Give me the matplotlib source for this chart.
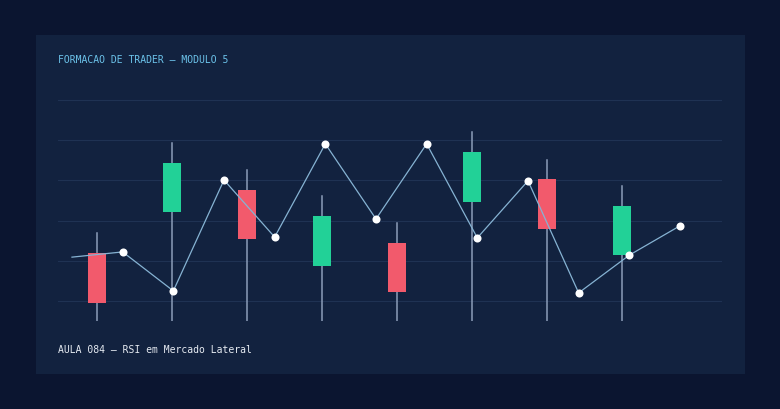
import matplotlib.pyplot as plt
from matplotlib.patches import Rectangle

# candles (price scale)
opens = [111.9, 122.1, 127.6, 108.7, 114.4, 124.6, 130.3, 111.4]
closes = [99.5, 134.3, 115.4, 121.1, 102.2, 137.1, 117.9, 123.6]
highs = [116.9, 139.3, 132.6, 126.1, 119.4, 142.0, 135.1, 128.6]
lows = [90.0, 90.0, 90.0, 90.0, 90.0, 90.0, 90.0, 90.0]

# indicator line (same vertical scale)
rsi_vals = [110.9, 112.2, 102.5, 130.1, 115.9, 139.1, 120.4, 139.1,
            115.7, 129.9, 102.0, 111.4, 118.7]

grid_levels = [100, 110, 120, 130, 140, 150]

title = "FORMACAO DE TRADER \u2014 MODULO 5"
footer = "AULA 084 \u2014 RSI em Mercado Lateral"

bg = '#0b1530'
panel = '#12223f'
red = '#f25a6c'
green = '#22d197'
wick_c = '#8c9db9'
line_c = '#86b3d3'

fig = plt.figure(figsize=(7.8, 4.1), dpi=100, facecolor=bg)
W, H = 780, 410

# inner panel as a background axes
bg_ax = fig.add_axes([36 / W, 1 - 375 / H, (745 - 36) / W, (375 - 36) / H], zorder=-1)
bg_ax.set_facecolor(panel)
bg_ax.set_axis_off()
bg_ax.add_patch(Rectangle((0, 0), 1, 1, transform=bg_ax.transAxes,
                          facecolor=panel, edgecolor='none'))

ax = fig.add_axes([58 / W, 1 - 322 / H, (722 - 58) / W, (322 - 81) / H], zorder=1)
ax.set_facecolor('none')
ax.set_xlim(-0.52, 8.333)
ax.set_ylim(95, 155)
for s in ax.spines.values():
    s.set_visible(False)
ax.set_xticks([])
ax.set_yticks([])

for g in grid_levels:
    ax.axhline(g, color='#1f3253', lw=0.8, zorder=1)

for i, (o, c, h, l) in enumerate(zip(opens, closes, highs, lows)):
    col = green if c > o else red
    ax.plot([i, i], [l, h], color=wick_c, lw=1.1, zorder=3)
    ax.add_patch(Rectangle((i - 0.12, min(o, c)), 0.24, abs(c - o),
                           facecolor=col, edgecolor='none', zorder=4))

ax2 = ax.twiny()
ax2.set_xlim(-0.276, 12.829)
ax2.set_axis_off()
idx = list(range(len(rsi_vals)))
ax2.plot(idx, rsi_vals, color=line_c, lw=0.9, zorder=2)
ax2.plot(idx[1:], rsi_vals[1:], 'o', color='white', ms=5.8, mec='none', zorder=5)

fig.text(58 / W, 1 - 60 / H, title, color='#6cc3ea', fontsize=7,
         family='DejaVu Sans Mono', va='center', ha='left')
fig.text(58 / W, 1 - 350 / H, footer, color='#e6ebf2', fontsize=7,
         family='DejaVu Sans Mono', va='center', ha='left')

fig.savefig('out.png', dpi=100, facecolor=bg)
